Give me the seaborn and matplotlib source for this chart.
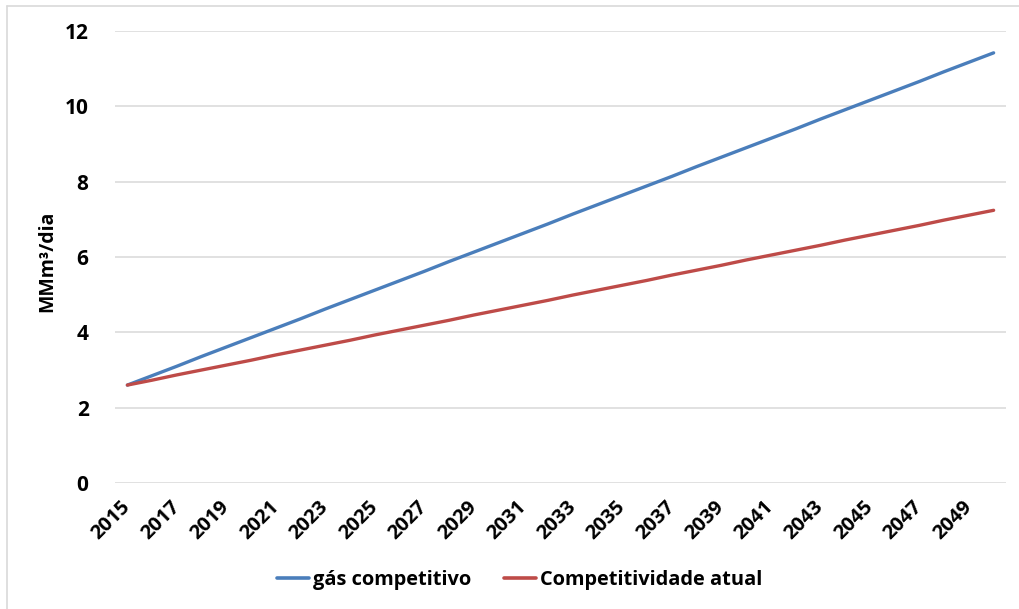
import matplotlib
matplotlib.use("Agg")
import matplotlib.pyplot as plt
from matplotlib.lines import Line2D
import seaborn as sns
import pandas as pd

# Projected gas demand, MMm³/day, 2015-2050
years = list(range(2015, 2051))
gas_competitivo = [2.60, 2.85, 3.10, 3.36, 3.61, 3.86, 4.11, 4.36, 4.62, 4.87,
                   5.12, 5.37, 5.62, 5.88, 6.13, 6.38, 6.63, 6.88, 7.14, 7.39,
                   7.64, 7.89, 8.14, 8.40, 8.65, 8.90, 9.15, 9.40, 9.66, 9.91,
                   10.16, 10.41, 10.66, 10.92, 11.17, 11.42]
competitividade_atual = [2.60, 2.73, 2.87, 3.00, 3.13, 3.26, 3.40, 3.53, 3.66, 3.79,
                         3.93, 4.06, 4.19, 4.32, 4.46, 4.59, 4.72, 4.85, 4.99, 5.12,
                         5.25, 5.38, 5.52, 5.65, 5.78, 5.92, 6.05, 6.18, 6.31, 6.45,
                         6.58, 6.71, 6.84, 6.98, 7.11, 7.24]
series_names = ["gás competitivo", "Competitividade atual"]
colors = ["#4a7ebb", "#be4b48"]
y_ticks = [0, 2, 4, 6, 8, 10, 12]
x_tick_years = list(range(2015, 2050, 2))

df = pd.concat([
    pd.DataFrame({"ano": years, "valor": gas_competitivo, "serie": series_names[0]}),
    pd.DataFrame({"ano": years, "valor": competitividade_atual, "serie": series_names[1]}),
])

sns.set_theme(style="white")
plt.rcParams["font.family"] = ["Open Sans", "DejaVu Sans"]
plt.rcParams["font.weight"] = "bold"
plt.rcParams["text.color"] = "black"
plt.rcParams["axes.labelcolor"] = "black"

fig = plt.figure(figsize=(10.19, 6.09), dpi=100)
ax = fig.add_axes([115 / 1019, 1 - 483 / 609, 891 / 1019, 452 / 609])

sns.lineplot(data=df, x="ano", y="valor", hue="serie", hue_order=series_names,
             palette=colors, linewidth=2.4, ax=ax)

ax.set_xlim(2014.5, 2050.5)
ax.set_ylim(0, 12)
ax.set_yticks(y_ticks)
ax.set_yticklabels([str(v) for v in y_ticks], fontsize=15, fontweight="bold")
ax.set_xticks(x_tick_years)
ax.set_xticklabels([str(y) for y in x_tick_years], fontsize=14.5, fontweight="bold",
                   rotation=45, ha="right", va="center", rotation_mode="anchor")
ax.tick_params(axis="y", length=0, pad=19, colors="black")
ax.tick_params(axis="x", length=0, pad=15, colors="black")

ax.grid(axis="y", color="#d9d9d9", linewidth=1.1)
ax.grid(axis="x", visible=False)
ax.set_axisbelow(True)
for side in ax.spines.values():
    side.set_visible(False)

ax.set_xlabel("")
ax.set_ylabel("MMm³/dia", fontsize=14, fontweight="bold", color="black")
ax.yaxis.set_label_coords((47 - 115) / 891, 0.49)
ax.yaxis.label.set(va="center", ha="center")

sns.move_legend(ax, "center", bbox_to_anchor=(0.51, 0.047),
                bbox_transform=fig.transFigure, ncol=2, frameon=False, title=None,
                handlelength=1.6, handletextpad=0.2, columnspacing=1.6,
                fontsize=14.4)
for txt in ax.get_legend().get_texts():
    txt.set_fontweight("bold")
    txt.set_color("black")
for h in ax.get_legend().legend_handles:
    h.set_linewidth(2.6)

# chart area frame (top and left edges)
fig.add_artist(Line2D([7 / 1019, 1.0], [1 - 6 / 609, 1 - 6 / 609],
                      transform=fig.transFigure, color="#d9d9d9", linewidth=1.2))
fig.add_artist(Line2D([7 / 1019, 7 / 1019], [0.0, 1 - 6 / 609],
                      transform=fig.transFigure, color="#d9d9d9", linewidth=1.2))

fig.savefig("out.png", dpi=100, facecolor="white")
